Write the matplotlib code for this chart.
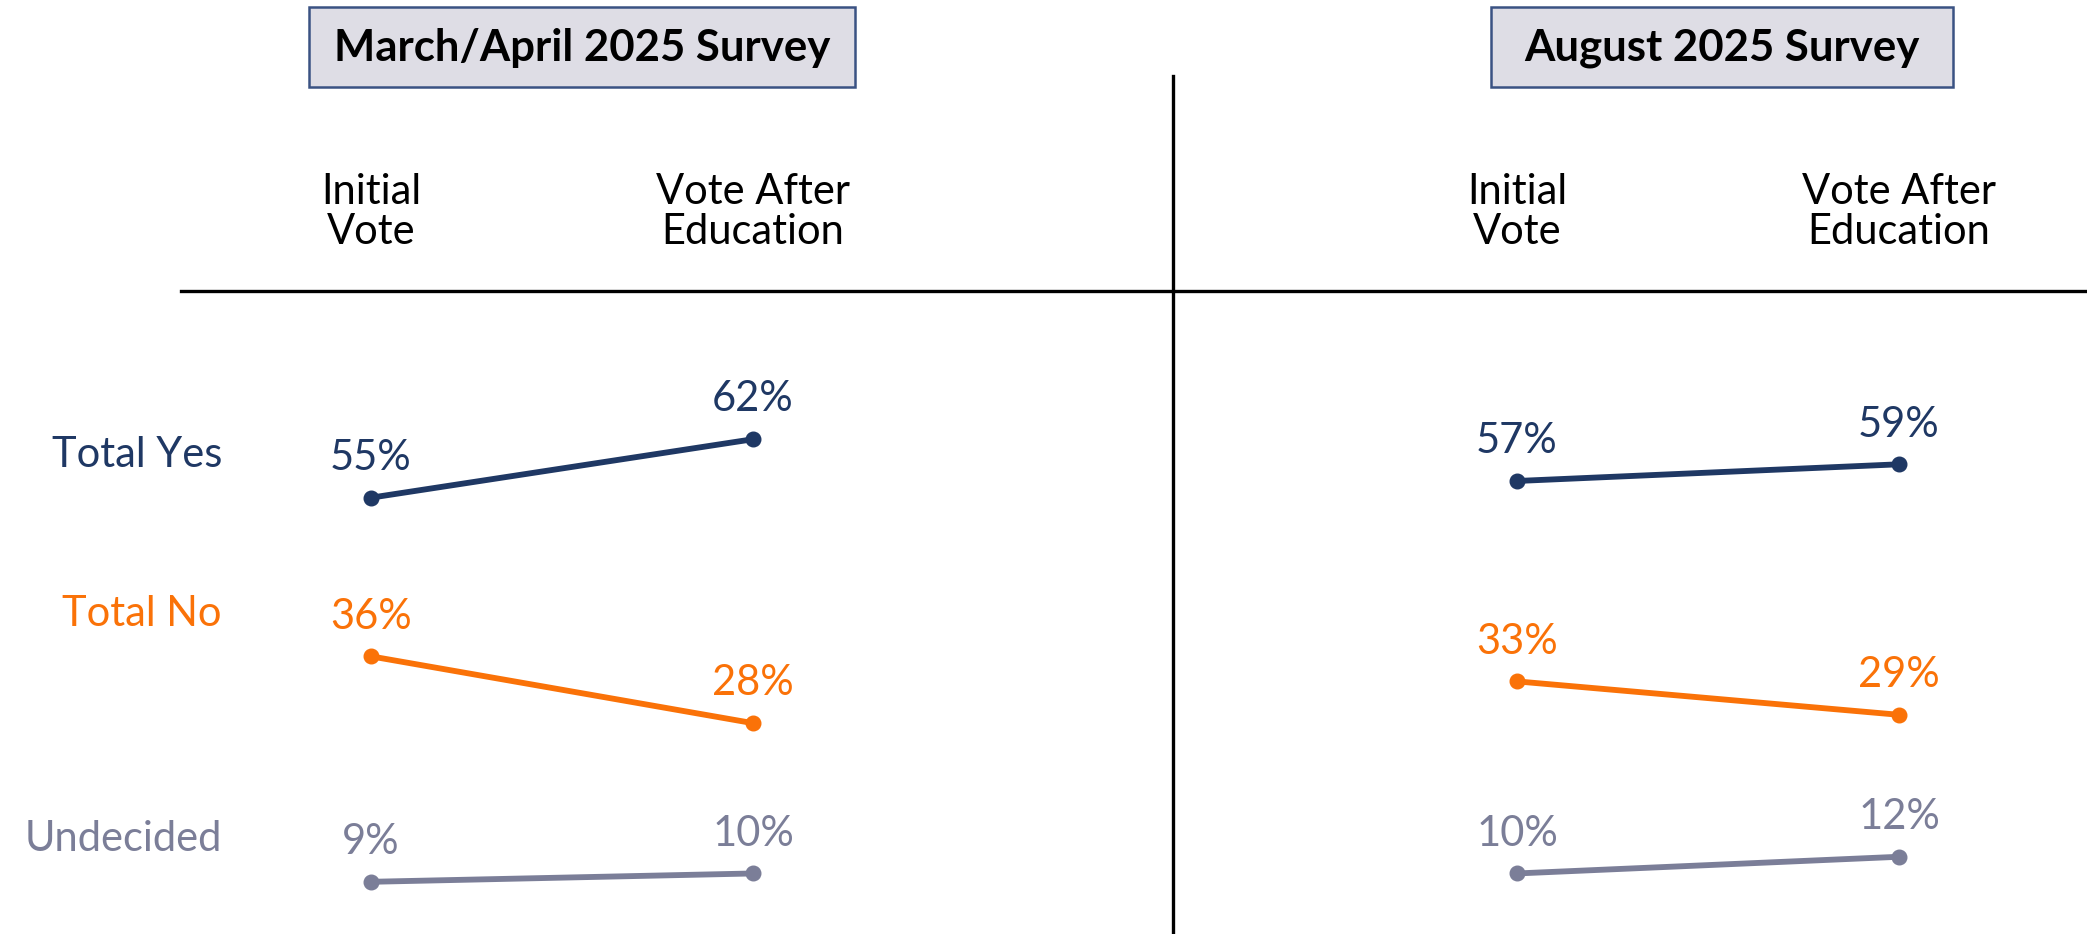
import matplotlib.pyplot as plt
from matplotlib.patches import Rectangle

plt.rcParams['font.family'] = ['Lato', 'DejaVu Sans']

# datos
grupos = ['Total Yes', 'Total No', 'Undecided']
colores = ['#1F3864', '#FA7208', '#7B7E98']
etapas = ['Initial\nVote', 'Vote After\nEducation']
encuestas = ['March/April 2025 Survey', 'August 2025 Survey']
marzo_abril = [[55, 62], [36, 28], [9, 10]]
agosto = [[57, 59], [33, 29], [10, 12]]

fig = plt.figure(figsize=(20.87, 9.34), dpi=100)
ax = fig.add_axes([0, 0, 1, 1])
ax.set_xlim(-0.971, 4.492)
ax.set_ylim(2.75, 114.6)
ax.axis('off')

fs = 30

for xs, datos in [([0, 1], marzo_abril), ([3, 4], agosto)]:
    for vals, col in zip(datos, colores):
        ax.plot(xs, vals, color=col, linewidth=4.2, marker='o', markersize=10.5)
        for x, v in zip(xs, vals):
            ax.annotate(f'{v}%', (x, v), xytext=(0, 20), textcoords='offset points',
                        ha='center', va='baseline', fontsize=fs, color=col)
    # encabezados de columna
    for x, et in zip(xs, etapas):
        ax.text(x, 1 - 244 / 934, et, transform=ax.get_xaxis_transform(),
                ha='center', va='baseline', fontsize=fs, linespacing=1.08,
                multialignment='center')

# nombres de las filas
for g, vals, col in zip(grupos, marzo_abril, colores):
    ax.annotate(g, (-0.39, vals[0]), xytext=(0, 22), textcoords='offset points',
                ha='right', va='baseline', fontsize=fs, color=col)

# cajas de titulo
cajas = [(309, 855), (1491, 1953)]
for (x0, x1), titulo in zip(cajas, encuestas):
    r = Rectangle((x0 / 2087, 1 - 87 / 934), (x1 - x0) / 2087, 80 / 934,
                  transform=ax.transAxes, facecolor='#DEDDE5', edgecolor='#3A5283',
                  linewidth=1.8)
    ax.add_patch(r)
    ax.text((x0 + x1) / 2 / 2087, 1 - 61 / 934, titulo, transform=ax.transAxes,
            ha='center', va='baseline', fontsize=31.5, fontweight='bold', color='black')

# lineas divisorias
ax.plot([181 / 2087, 1], [1 - 291 / 934, 1 - 291 / 934], transform=ax.transAxes,
        color='black', linewidth=2.4)
ax.plot([1173 / 2087, 1173 / 2087], [1 - 76 / 934, 0], transform=ax.transAxes,
        color='black', linewidth=2.4)

plt.savefig('out.png', dpi=100)
